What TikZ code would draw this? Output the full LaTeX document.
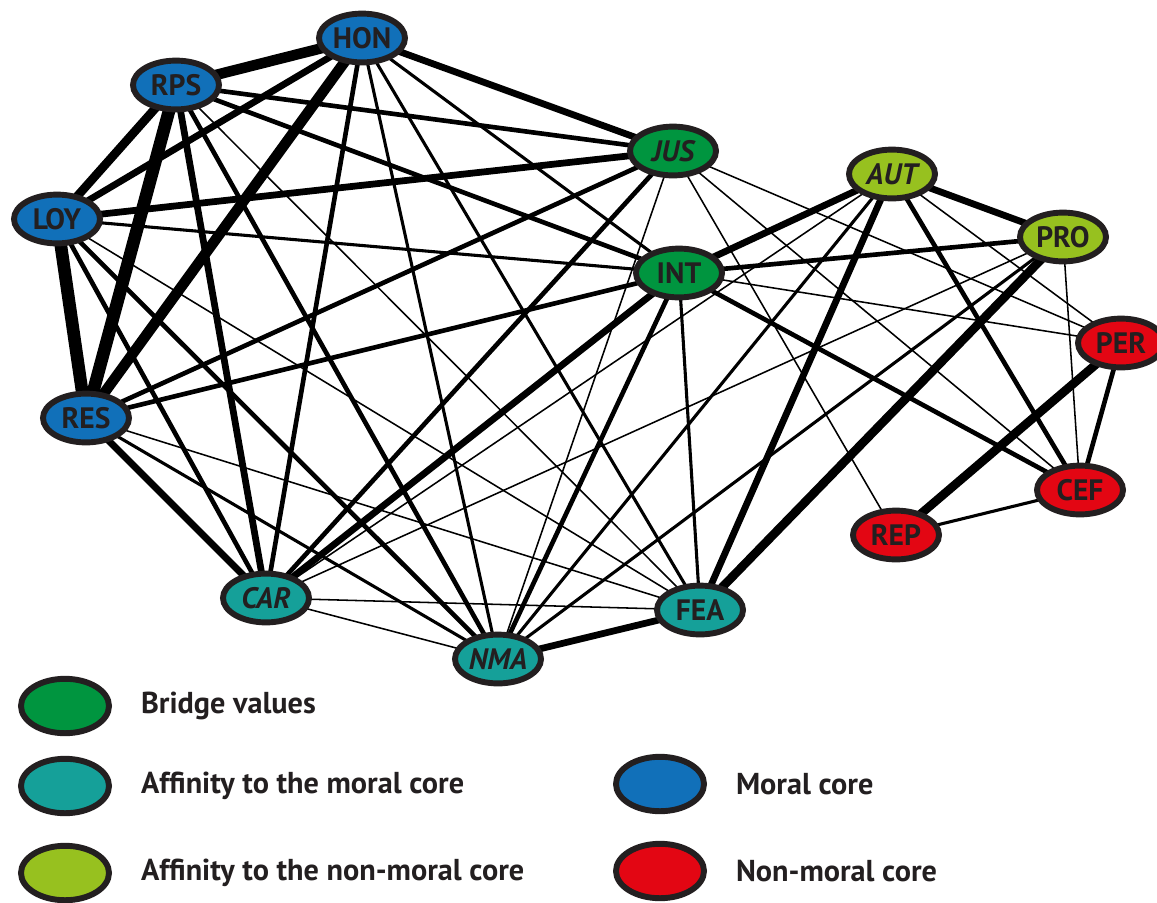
\documentclass[tikz,border=0pt]{standalone}
\usepackage{fontspec}
\setmainfont{PT Sans}
\usetikzlibrary{positioning, shapes.geometric, backgrounds}
\definecolor{vmoral}{HTML}{1170B9}
\definecolor{vbridge}{HTML}{00953F}
\definecolor{vaffmoral}{HTML}{15A099}
\definecolor{vaffnon}{HTML}{97C11F}
\definecolor{vnonmoral}{HTML}{E30613}
\definecolor{vrim}{HTML}{231F20}

\begin{document}
\begin{tikzpicture}[
  x=0.025cm, y=-0.025cm,
  value/.style={
    ellipse, draw=vrim, line width=4.2pt, inner sep=0pt,
    minimum width=2.15cm, minimum height=1.22cm,
    text=vrim, font=\bfseries\fontsize{21}{21}\selectfont
  },
  moral/.style={value, fill=vmoral},
  bridge/.style={value, fill=vbridge},
  affmoral/.style={value, fill=vaffmoral},
  affnon/.style={value, fill=vaffnon},
  nonmoral/.style={value, fill=vnonmoral},
  key/.style={value, minimum width=2.2cm, minimum height=1.36cm},
  keytext/.style={inner sep=0pt, text=vrim,
    font=\bfseries\fontsize{21.5}{24}\selectfont},
  faint/.style={draw=black, line width=1.1pt},
  weak/.style={draw=black, line width=2.2pt},
  fair/.style={draw=black, line width=3.3pt},
  strong/.style={draw=black, line width=4.8pt},
  bold/.style={draw=black, line width=6.2pt},
  heavy/.style={draw=black, line width=7.5pt},
  huge/.style={draw=black, line width=9pt},
]
\useasboundingbox (0,0) rectangle (1157,902);

% Moral core
\node[moral] (HON) at (362,38)  {HON};
\node[moral] (RPS) at (176,85)  {RPS};
\node[moral] (LOY) at (57,219)  {LOY};
\node[moral] (RES) at (86,418)  {RES};

% Bridge values
\node[bridge] (JUS) at (673,151) {\itshape JUS};
\node[bridge] (INT) at (679,273) {INT};

% Affinity to the non-moral core
\node[affnon] (AUT) at (892,174) {\itshape AUT};
\node[affnon] (PRO) at (1063,237) {PRO};

% Non-moral core
\node[nonmoral] (PER) at (1121,343) {PER};
\node[nonmoral] (CEF) at (1080,490) {CEF};
\node[nonmoral] (REP) at (896,535)  {REP};

% Affinity to the moral core
\node[affmoral] (CAR) at (266,598) {\itshape CAR};
\node[affmoral] (FEA) at (700,610) {FEA};
\node[affmoral] (NMA) at (498,659) {\itshape NMA};

% Ties, drawn under the values
\begin{scope}[on background layer]
% within the moral core
\draw[heavy]  (HON.center) -- (RPS.center);
\draw[strong] (HON.center) -- (LOY.center);
\draw[heavy]  (HON.center) -- (RES.center);
\draw[bold]   (RPS.center) -- (LOY.center);
\draw[huge]   (RPS.center) -- (RES.center);
\draw[huge]   (LOY.center) -- (RES.center);

% moral core to bridge values
\draw[strong] (HON.center) -- (JUS.center);
\draw[weak]   (HON.center) -- (INT.center);
\draw[fair]   (RPS.center) -- (JUS.center);
\draw[fair]   (RPS.center) -- (INT.center);
\draw[strong] (LOY.center) -- (JUS.center);
\draw[weak]   (LOY.center) -- (INT.center);
\draw[fair]   (RES.center) -- (JUS.center);
\draw[fair]   (RES.center) -- (INT.center);

% moral core to its affinity group
\draw[fair]   (HON.center) -- (CAR.center);
\draw[weak]   (HON.center) -- (NMA.center);
\draw[weak]   (HON.center) -- (FEA.center);
\draw[strong] (RPS.center) -- (CAR.center);
\draw[fair]   (RPS.center) -- (NMA.center);
\draw[faint]  (RPS.center) -- (FEA.center);
\draw[fair]   (LOY.center) -- (CAR.center);
\draw[fair]   (LOY.center) -- (NMA.center);
\draw[faint]  (LOY.center) -- (FEA.center);
\draw[strong] (RES.center) -- (CAR.center);
\draw[weak]   (RES.center) -- (NMA.center);
\draw[faint]  (RES.center) -- (FEA.center);

% affinity to the moral core
\draw[faint]  (CAR.center) -- (NMA.center);
\draw[faint]  (CAR.center) -- (FEA.center);
\draw[strong] (NMA.center) -- (FEA.center);

% bridge values outwards
\draw[fair]   (JUS.center) -- (CAR.center);
\draw[faint]  (JUS.center) -- (NMA.center);
\draw[faint]  (JUS.center) -- (PER.center);
\draw[faint]  (JUS.center) -- (CEF.center);
\draw[faint]  (JUS.center) -- (REP.center);
\draw[strong] (INT.center) -- (CAR.center);
\draw[fair]   (INT.center) -- (NMA.center);
\draw[weak]   (INT.center) -- (FEA.center);
\draw[strong] (INT.center) -- (AUT.center);
\draw[fair]   (INT.center) -- (PRO.center);
\draw[faint]  (INT.center) -- (PER.center);
\draw[fair]   (INT.center) -- (CEF.center);

% affinity to the non-moral core
\draw[strong] (AUT.center) -- (PRO.center);
\draw[faint]  (AUT.center) -- (CAR.center);
\draw[weak]   (AUT.center) -- (NMA.center);
\draw[strong] (AUT.center) -- (FEA.center);
\draw[faint]  (AUT.center) -- (PER.center);
\draw[fair]   (AUT.center) -- (CEF.center);
\draw[faint]  (PRO.center) -- (CAR.center);
\draw[weak]   (PRO.center) -- (NMA.center);
\draw[bold]   (PRO.center) -- (FEA.center);
\draw[faint]  (PRO.center) -- (CEF.center);

% within the non-moral core
\draw[bold]   (PER.center) -- (REP.center);
\draw[fair]   (PER.center) -- (CEF.center);
\draw[weak]   (CEF.center) -- (REP.center);
\end{scope}

% Legend
\node[key, fill=vbridge]   (keyBridge)   at (65,706) {};
\node[key, fill=vaffmoral] (keyAffMoral) at (65,786) {};
\node[key, fill=vaffnon]   (keyAffNon)   at (65,873) {};
\node[key, fill=vmoral]    (keyMoral)    at (660,784) {};
\node[key, fill=vnonmoral] (keyNonMoral) at (660,871) {};
\node[keytext, right=0.72cm of keyBridge]   (txtBridge)   {Bridge values};
\node[keytext, right=0.72cm of keyAffMoral] (txtAffMoral) {Affinity to the moral core};
\node[keytext, right=0.72cm of keyAffNon]   (txtAffNon)   {Affinity to the non-moral core};
\node[keytext, right=0.72cm of keyMoral]    (txtMoral)    {Moral core};
\node[keytext, right=0.72cm of keyNonMoral] (txtNonMoral) {Non-moral core};
\end{tikzpicture}
\end{document}
